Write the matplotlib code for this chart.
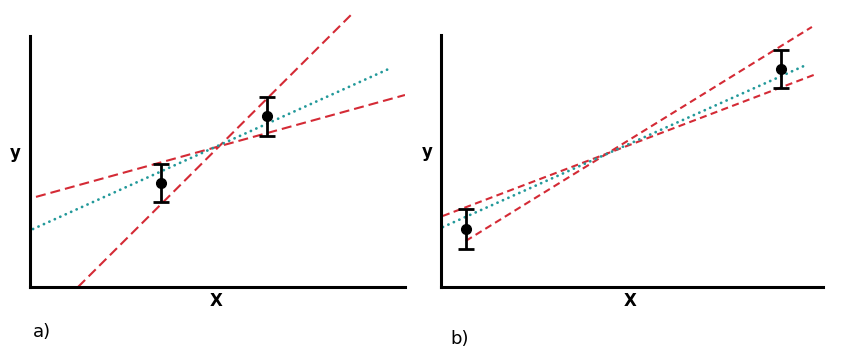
import matplotlib
matplotlib.use("Agg")
import matplotlib.pyplot as plt

# ---- data (arbitrary units, axes span 0..10) ----
# panel a
a_x = [3.49, 6.32]
a_y = [4.15, 6.80]
a_err = [0.76, 0.78]
a_fit_x = [0.08, 9.57]
a_fit_y = [2.31, 8.69]
a_shallow_x = [0.16, 10.0]
a_shallow_y = [3.59, 7.65]
a_steep_x = [1.28, 8.56]
a_steep_y = [0.0, 10.84]

# panel b
b_x = [0.65, 8.90]
b_y = [2.30, 8.65]
b_err = [0.78, 0.77]
b_fit_x = [0.05, 9.50]
b_fit_y = [2.38, 8.77]
b_shallow_x = [0.05, 9.82]
b_shallow_y = [2.82, 8.45]
b_steep_x = [0.65, 9.71]
b_steep_y = [1.83, 10.32]

RED = "#d42a35"
TEAL = "#23999a"

fig = plt.figure(figsize=(8.5, 3.57), dpi=100)
axa = fig.add_axes([30/850, 70/357, 375/850, 251/357])
axb = fig.add_axes([441/850, 70/357, 382/850, 252/357])

def style(ax):
    ax.set_xlim(0, 10)
    ax.set_ylim(0, 10)
    for s in ["top", "right"]:
        ax.spines[s].set_visible(False)
    for s in ["left", "bottom"]:
        ax.spines[s].set_linewidth(2.2)
        ax.spines[s].set_color("black")
    ax.set_xticks([])
    ax.set_yticks([])
    ax.patch.set_alpha(0)

style(axa)
style(axb)

DOTS = (0, (0.05, 2.1))

# panel a
axa.plot(a_shallow_x, a_shallow_y, color=RED, lw=1.5, dashes=(4.8, 2.4))
axa.plot(a_steep_x, a_steep_y, color=RED, lw=1.5, dashes=(4.8, 2.4), clip_on=False)
axa.plot(a_fit_x, a_fit_y, color=TEAL, lw=2.0, linestyle=DOTS, dash_capstyle="round")
axa.errorbar(a_x, a_y, yerr=a_err, fmt="o", color="black", ms=7,
             elinewidth=2.0, capsize=5.5, capthick=2.0, zorder=5)

# panel b
axb.plot(b_shallow_x, b_shallow_y, color=RED, lw=1.5, dashes=(3.4, 2.1))
axb.plot(b_steep_x, b_steep_y, color=RED, lw=1.5, dashes=(3.4, 2.1), clip_on=False)
axb.plot(b_fit_x, b_fit_y, color=TEAL, lw=2.0, linestyle=DOTS, dash_capstyle="round")
axb.errorbar(b_x, b_y, yerr=b_err, fmt="o", color="black", ms=7,
             elinewidth=2.0, capsize=5.5, capthick=2.0, zorder=5)

# labels
fig.text(15/850, 1 - 153/357, "y", fontsize=12, fontweight="bold", ha="center", va="center")
fig.text(216/850, 1 - 301/357, "X", fontsize=12, fontweight="bold", ha="center", va="center")
fig.text(42/850, 1 - 332/357, "a)", fontsize=13, ha="center", va="center")
fig.text(427/850, 1 - 152/357, "y", fontsize=12, fontweight="bold", ha="center", va="center")
fig.text(630/850, 1 - 301/357, "X", fontsize=12, fontweight="bold", ha="center", va="center")
fig.text(460/850, 1 - 339/357, "b)", fontsize=13, ha="center", va="center")

fig.savefig("out.png", dpi=100)
